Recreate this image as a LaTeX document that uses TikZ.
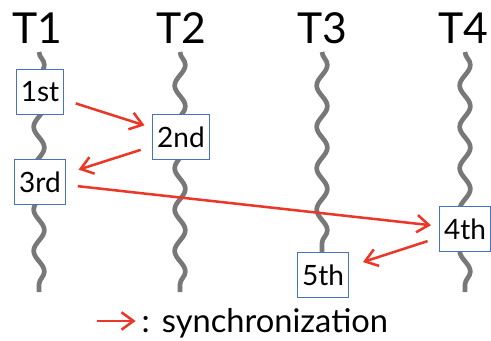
\documentclass[tikz,border=0pt]{standalone}
\usepackage{fontspec}
\setmainfont{Lato}
\usetikzlibrary{arrows.meta,decorations.pathmorphing}
\begin{document}
\begin{tikzpicture}[x=0.75pt,y=0.75pt,yscale=-1,xscale=1,
  thread/.style={draw={rgb,255:red,120;green,120;blue,120},line width=3.5pt,
    decorate,decoration={snake,amplitude=4pt,segment length=31pt}},
  event/.style={draw={rgb,255:red,68;green,114;blue,196},line width=0.6pt,fill=white,
    inner xsep=3.5pt,minimum height=34pt,font=\fontsize{21}{24}\selectfont},
  title/.style={font=\fontsize{32}{36}\selectfont},
  sync/.style={draw={rgb,255:red,235;green,55;blue,40},line width=1.9pt,
    -{Straight Barb[length=9pt,width=13pt,line width=1.9pt]},shorten <=9pt,shorten >=6pt}]
\useasboundingbox (0,0) rectangle (491,341);

% thread titles
\node[title] (tA) at (37,28) {T1};
\node[title] (tB) at (181,28) {T2};
\node[title] (tC) at (322,28) {T3};
\node[title] (tD) at (463,28) {T4};

% thread lines
\coordinate (a1) at (39,52);  \coordinate (a2) at (39,292);
\coordinate (b1) at (180,52); \coordinate (b2) at (180,292);
\coordinate (c1) at (322,52); \coordinate (c2) at (322,254);
\coordinate (d1) at (465,52); \coordinate (d2) at (465,292);
\draw[thread] (a1) -- (a2);
\draw[thread] (b1) -- (b2);
\draw[thread] (c1) -- (c2);
\draw[thread] (d1) -- (d2);

% events
\node[event] (first) at (40,92) {1st};
\node[event] (second) at (181,137) {2nd};
\node[event] (third) at (40,182) {3rd};
\node[event] (fourth) at (465,229) {4th};
\node[event] (fifth) at (323,275) {5th};

% synchronization
\draw[sync] (first) -- (second);
\draw[sync,shorten >=10pt] (second) -- (third);
\draw[sync] (third) -- (fourth);
\draw[sync,shorten >=11pt] (fourth) -- (fifth);

% legend
\node[anchor=west,font=\fontsize{24.5}{28}\selectfont] (legend) at (137,323) {:\hspace{9pt}synchronization};
\coordinate (legstart) at (97,321);
\draw[sync,shorten <=0pt,shorten >=1pt] (legstart) -- (legstart -| legend.west);

\end{tikzpicture}
\end{document}
